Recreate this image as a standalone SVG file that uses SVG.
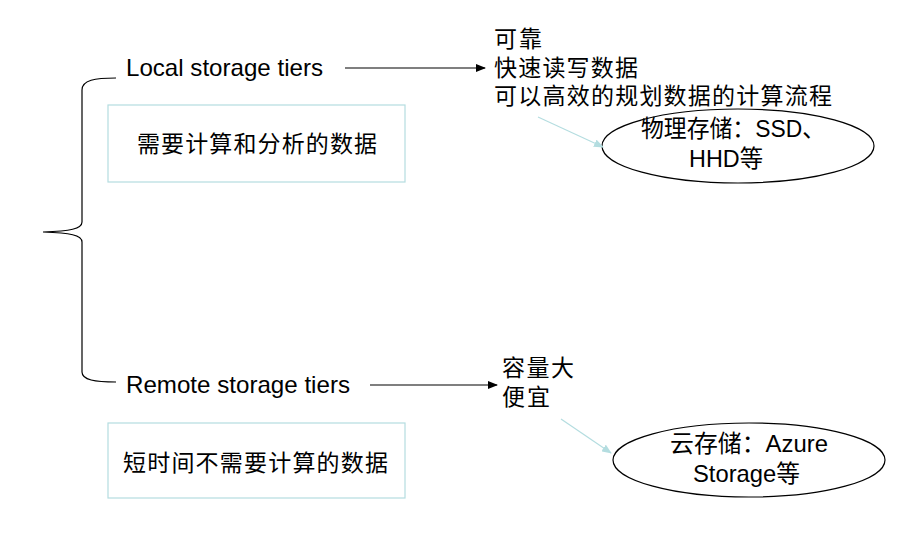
<svg xmlns="http://www.w3.org/2000/svg" width="916" height="549" viewBox="0 0 916 549">
<defs>
<style>
.t{font-family:"Liberation Sans","Noto Sans CJK SC",sans-serif;font-size:23px;fill:#000}
.e{font-family:"Liberation Sans","Noto Sans CJK SC",sans-serif;font-size:24px;fill:#000}
.box{fill:#fff;stroke:#b4dde0;stroke-width:1.2}
.ell{fill:#fff;stroke:#000;stroke-width:1.2}
.blk{stroke:#000;stroke-width:1.2;fill:none}
.tl{stroke:#b4dde0;stroke-width:1.2;fill:none}
</style>
<marker id="ab" markerWidth="10" markerHeight="8" refX="9" refY="4" orient="auto" markerUnits="userSpaceOnUse"><path d="M0,0 L10,4 L0,8 Z" fill="#000"/></marker>
<marker id="at" markerWidth="10" markerHeight="8" refX="9" refY="4" orient="auto" markerUnits="userSpaceOnUse"><path d="M0,0 L10,4 L0,8 Z" fill="#b4dde0"/></marker>
</defs>
<rect width="916" height="549" fill="#fff"/>
<g id="brace"><path class="blk" d="M116,78 C95,78 82,80 82,90 L82,222 C82,229 70,231 43,232 C70,233 82,235 82,242 L82,372 C82,380 95,382 116,382"/></g>
<g id="local"><text class="e" x="126" y="76" textLength="197" lengthAdjust="spacingAndGlyphs">Local storage tiers</text></g>
<g id="remote"><text class="e" x="126" y="393" textLength="224" lengthAdjust="spacingAndGlyphs">Remote storage tiers</text></g>
<g id="box1"><rect class="box" x="108" y="105" width="297" height="77"/><text class="t" x="137" y="152" textLength="240" lengthAdjust="spacing">需要计算和分析的数据</text></g>
<g id="box2"><rect class="box" x="108" y="423" width="297" height="75"/><text class="t" x="123" y="471" textLength="265" lengthAdjust="spacing">短时间不需要计算的数据</text></g>
<g id="localProps"><text class="t" x="494" y="47" textLength="48" lengthAdjust="spacing">可靠</text><text class="t" x="494" y="76" textLength="144" lengthAdjust="spacing">快速读写数据</text><text class="t" x="494" y="104" textLength="338" lengthAdjust="spacing">可以高效的规划数据的计算流程</text></g>
<g id="remoteProps"><text class="t" x="502" y="376" textLength="72" lengthAdjust="spacing">容量大</text><text class="t" x="502" y="405" textLength="48" lengthAdjust="spacing">便宜</text></g>
<g id="ell1"><ellipse class="ell" cx="738" cy="146" rx="136" ry="37"/><text class="e" x="641" y="137" textLength="184" lengthAdjust="spacingAndGlyphs">物理存储：SSD、</text><text class="e" x="689" y="167" textLength="74" lengthAdjust="spacingAndGlyphs">HHD等</text></g>
<g id="ell2"><ellipse class="ell" cx="749" cy="460" rx="136" ry="37"/><text class="e" x="670" y="452" textLength="158" lengthAdjust="spacingAndGlyphs">云存储：Azure</text><text class="e" x="693" y="482" textLength="107" lengthAdjust="spacingAndGlyphs">Storage等</text></g>
<g id="connectors">
<line class="blk" x1="345" y1="68" x2="485" y2="68" marker-end="url(#ab)"/>
<line class="blk" x1="370" y1="385" x2="497" y2="385" marker-end="url(#ab)"/>
<line class="tl" x1="538" y1="117" x2="603" y2="147" marker-end="url(#at)"/>
<line class="tl" x1="561" y1="419" x2="611" y2="453" marker-end="url(#at)"/>
</g>
</svg>
